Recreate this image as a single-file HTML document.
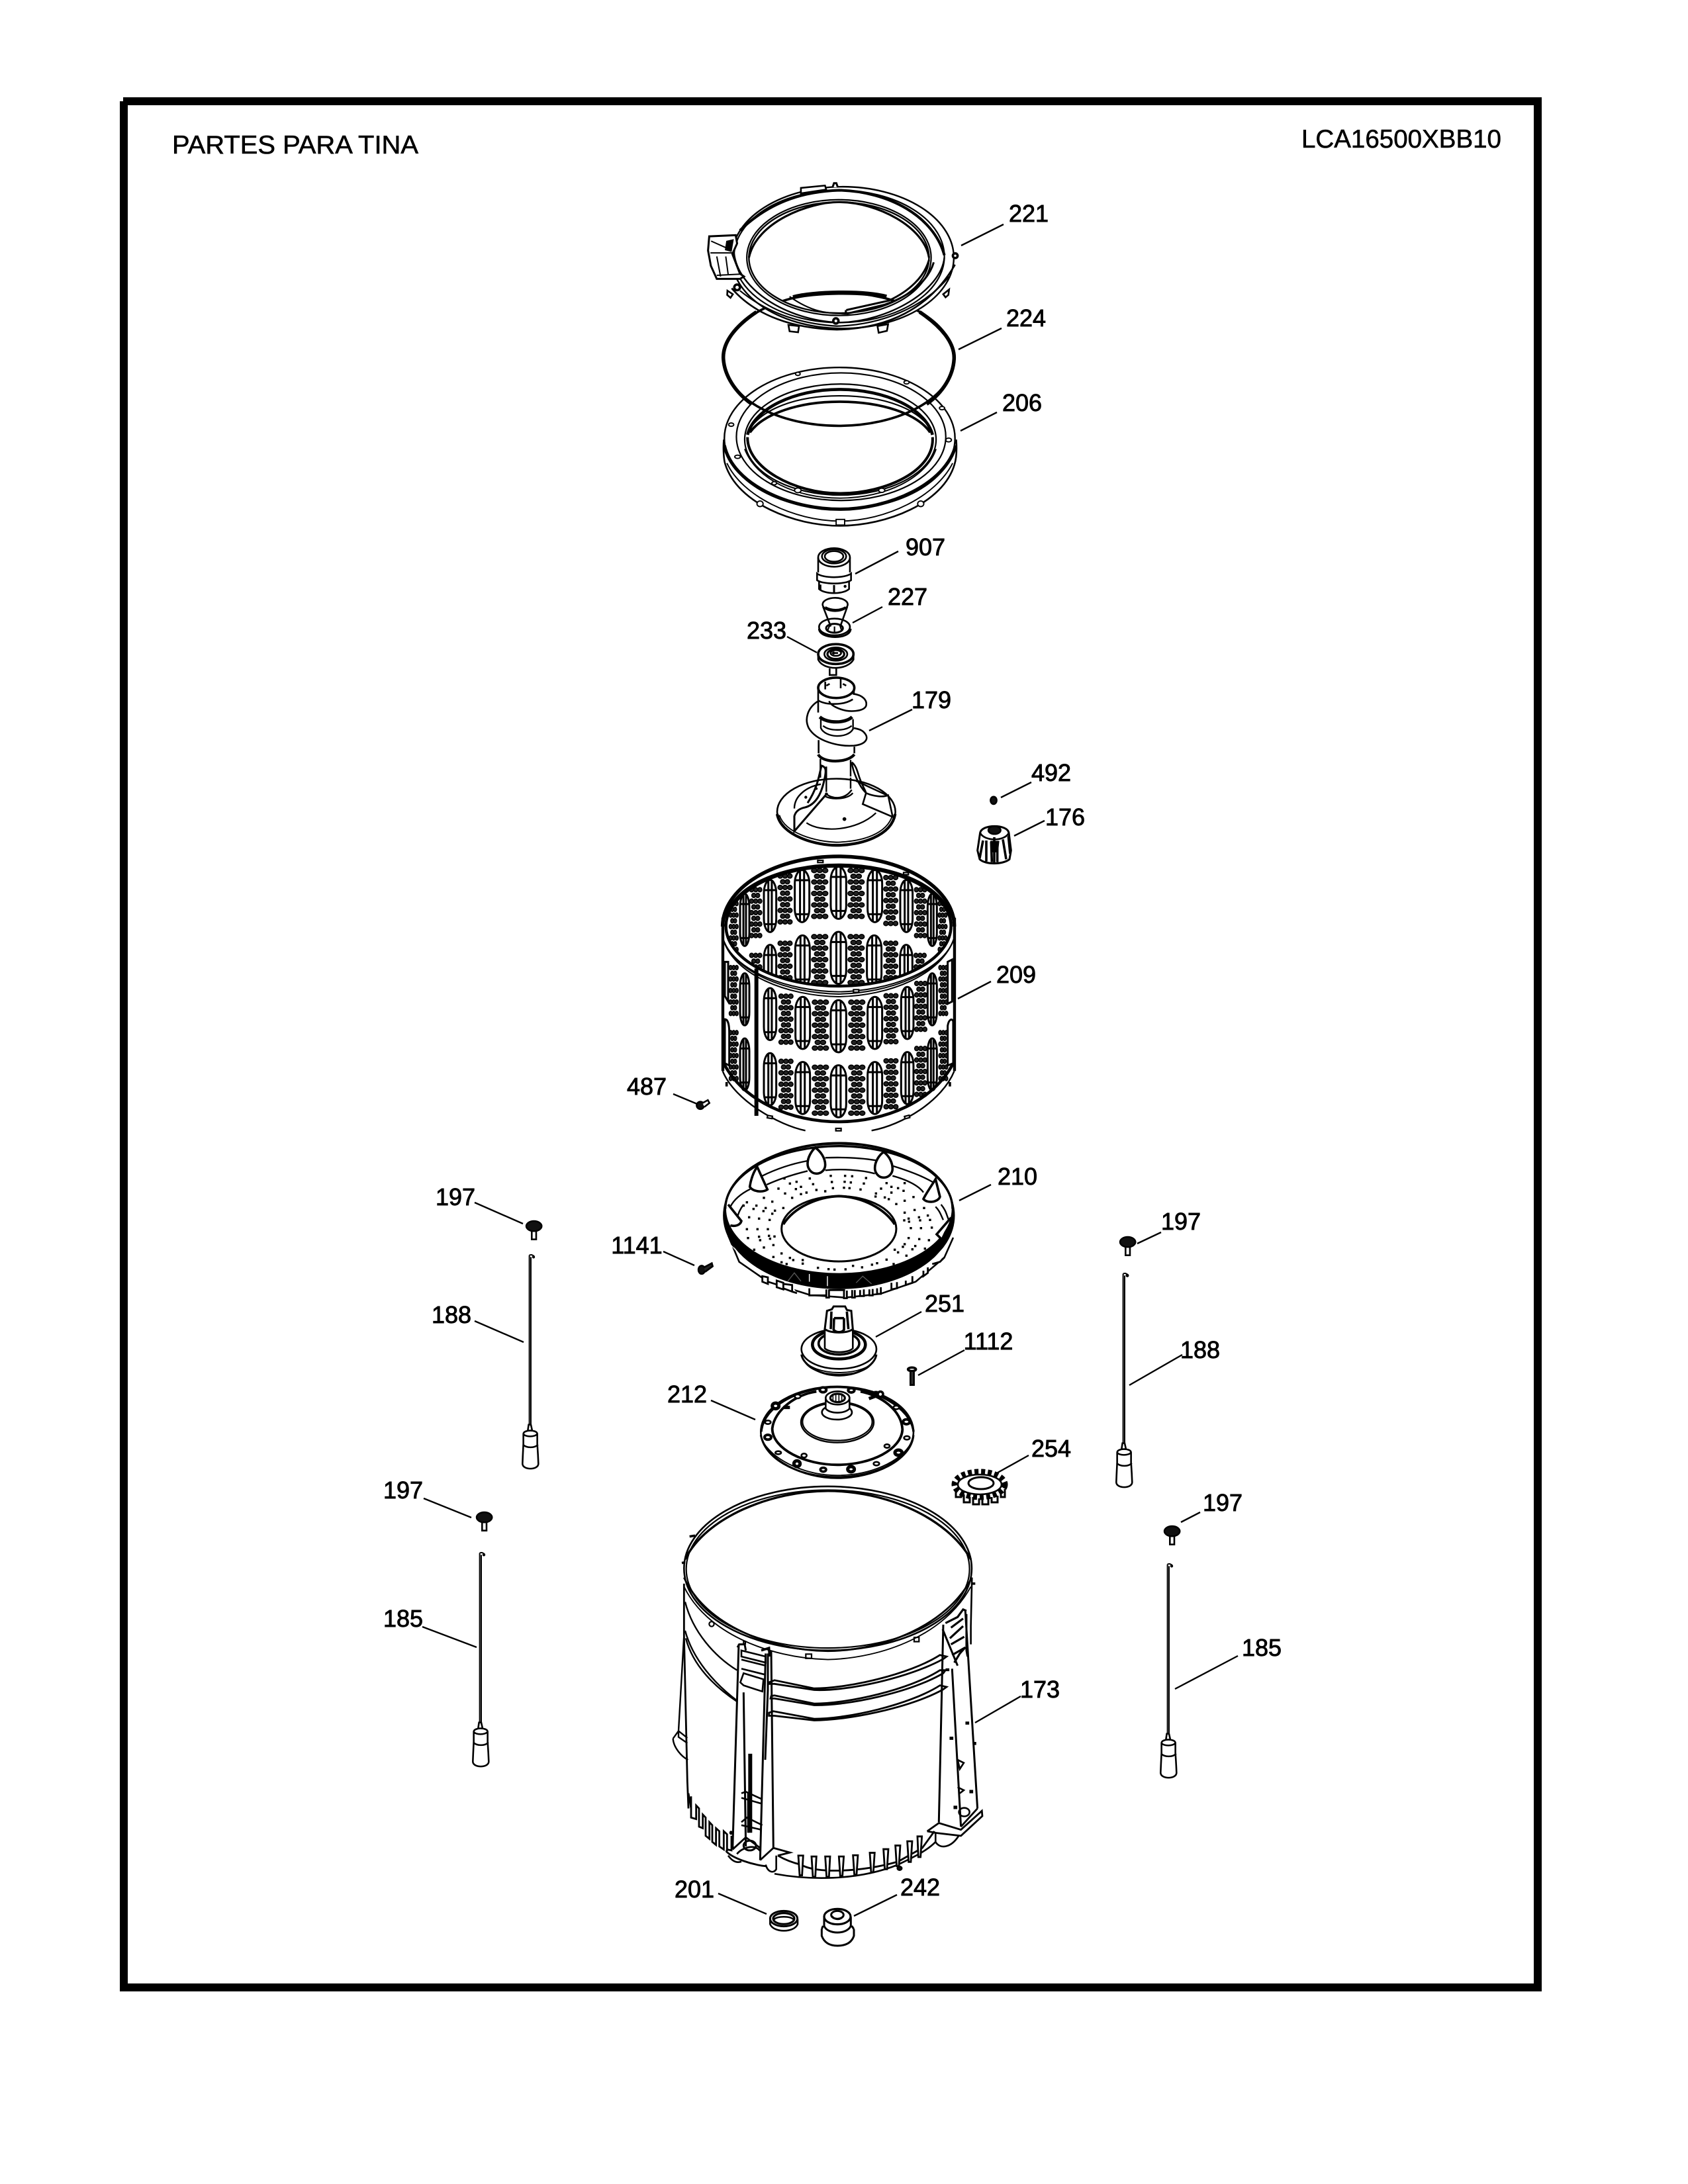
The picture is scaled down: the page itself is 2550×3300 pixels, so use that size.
<!DOCTYPE html>
<html><head><meta charset="utf-8"><style>
html,body{margin:0;padding:0;background:#fff}
svg{display:block}
svg *{vector-effect:non-scaling-stroke}
.l{font:36px "Liberation Sans",sans-serif;text-anchor:middle;fill:#000;stroke:#000;stroke-width:.9}
.t{font:39px "Liberation Sans",sans-serif;fill:#000;stroke:#000;stroke-width:.6}
.w{fill:#fff}.k{fill:#000}
</style></head><body>
<svg xmlns="http://www.w3.org/2000/svg" width="2550" height="3300" viewBox="0 0 2550 3300">
<defs>
<g id="s"><rect x="-50" y="-118" width="100" height="236" rx="50" ry="60" stroke-width="3" fill="#fff"/><path d="M-14 -114V114M14 -114V114M-46 -72H46M-46 82H46" stroke-width="3"/></g>
<g id="d" fill="#222" stroke-width="1.6"><ellipse cx="-25" cy="-104" rx="12" ry="10"/><ellipse cx="0" cy="-104" rx="12" ry="10"/><ellipse cx="25" cy="-104" rx="12" ry="10"/><ellipse cx="-12" cy="-78" rx="12" ry="10"/><ellipse cx="12" cy="-78" rx="12" ry="10"/><ellipse cx="-25" cy="-52" rx="12" ry="10"/><ellipse cx="0" cy="-52" rx="12" ry="10"/><ellipse cx="25" cy="-52" rx="12" ry="10"/><ellipse cx="-12" cy="-26" rx="12" ry="10"/><ellipse cx="12" cy="-26" rx="12" ry="10"/><ellipse cx="-25" cy="0" rx="12" ry="10"/><ellipse cx="0" cy="0" rx="12" ry="10"/><ellipse cx="25" cy="0" rx="12" ry="10"/><ellipse cx="-12" cy="26" rx="12" ry="10"/><ellipse cx="12" cy="26" rx="12" ry="10"/><ellipse cx="-25" cy="52" rx="12" ry="10"/><ellipse cx="0" cy="52" rx="12" ry="10"/><ellipse cx="25" cy="52" rx="12" ry="10"/><ellipse cx="-12" cy="78" rx="12" ry="10"/><ellipse cx="12" cy="78" rx="12" ry="10"/><ellipse cx="-25" cy="104" rx="12" ry="10"/><ellipse cx="0" cy="104" rx="12" ry="10"/><ellipse cx="25" cy="104" rx="12" ry="10"/></g>
<g id="knob"><ellipse cx="740" cy="278" rx="35" ry="23" fill="#111" stroke="#000"/><path d="M730 300V338H750V300" stroke-width="2.6"/></g>
<g id="rod"><path d="M719 410V1180M726 418V1180M719 410Q730 404 742 416" stroke-width="2"/><circle cx="738" cy="418" r="3" fill="#000"/></g>
<g id="wt"><path d="M716 1178L712 1205H732L726 1178Z" stroke-width="2.6" fill="#fff"/><path d="M692 1220C692 1200 755 1200 755 1220V1265C755 1270 758 1300 760 1355C760 1385 688 1385 688 1355C690 1300 692 1270 692 1265ZM692 1220C700 1235 745 1235 755 1220M690 1268C705 1285 745 1285 758 1268" stroke-width="2.6" fill="#fff"/></g>
<clipPath id="back"><ellipse cx="650" cy="418" rx="510" ry="272"/></clipPath>
</defs>
<rect width="2550" height="3300" fill="#fff"/>
<path class="k" d="M186 147H2329V159H186ZM181 153H193V3009H181ZM2317 147H2329V3009H2317ZM181 2997H2329V3009H181Z"/>
<text class="t" x="260" y="232" textLength="372" lengthAdjust="spacingAndGlyphs">PARTES PARA TINA</text>
<text class="t" x="1966" y="223" textLength="302" lengthAdjust="spacingAndGlyphs">LCA16500XBB10</text>

<g fill="none" stroke="#000" stroke-width="2.4">
<!-- top rings -->
<g transform="translate(1000 250) scale(.357)">
<!-- 206 -->
<ellipse cx="752" cy="1155" rx="488" ry="300" stroke-width="2.4" fill="#fff"/>
<path d="M262 1160C258 1200 262 1250 268 1265C320 1430 560 1525 752 1525C950 1525 1190 1430 1238 1265C1246 1240 1248 1200 1245 1160" stroke-width="2.6"/>
<path d="M264 1185C300 1350 540 1455 752 1455C960 1455 1200 1350 1243 1185" stroke-width="5"/>
<path d="M275 1260C340 1400 560 1505 752 1505C950 1505 1160 1400 1230 1260" stroke-width="1.9"/>
<ellipse cx="758" cy="1148" rx="443" ry="270" stroke-width="2.2"/>
<ellipse cx="755" cy="1160" rx="405" ry="235" stroke-width="2.2"/>
<path d="M362 1140C390 1030 560 948 750 948C950 948 1115 1030 1145 1140" stroke-width="4.6"/>
<path d="M365 1125C420 1030 570 975 750 975C940 975 1090 1030 1142 1125" stroke-width="2.2"/>
<path d="M372 1130C430 1050 580 1000 750 1000C930 1000 1080 1050 1135 1130" stroke-width="3.8"/>
<path d="M362 1150C360 1280 560 1388 752 1388C950 1388 1155 1290 1145 1150" stroke-width="4"/>
<path d="M350 1200C400 1330 570 1408 752 1408C950 1408 1120 1320 1160 1200" stroke-width="1.9"/>
<g stroke-width="1.9" fill="#fff"><ellipse cx="575" cy="882" rx="10" ry="7"/><ellipse cx="1035" cy="918" rx="11" ry="7"/><ellipse cx="293" cy="1097" rx="11" ry="7"/><ellipse cx="1213" cy="1162" rx="12" ry="8"/><ellipse cx="475" cy="1345" rx="10" ry="7"/><ellipse cx="575" cy="1375" rx="14" ry="10"/><ellipse cx="930" cy="1375" rx="13" ry="9"/><ellipse cx="320" cy="1233" rx="12" ry="7"/><ellipse cx="1185" cy="1027" rx="11" ry="7"/><ellipse cx="415" cy="1432" rx="13" ry="12"/><ellipse cx="1095" cy="1432" rx="13" ry="12"/><rect x="737" y="1498" width="36" height="24"/></g>
<!-- 224 gasket -->
<ellipse cx="748" cy="820" rx="487" ry="282" stroke-width="3.6"/>
<path d="M400 620C310 680 255 750 260 820C265 890 310 960 380 1010M1090 620C1180 680 1240 750 1236 820C1232 890 1190 960 1120 1010" stroke-width="5.5"/>
<!-- 221 -->
<path fill="#fff" fill-rule="evenodd" stroke-width="2.4" d="M295 390A470 300 0 1 1 1235 390A470 300 0 1 1 295 390ZM368 390A381 235 0 1 0 1130 390A381 235 0 1 0 368 390Z"/>
<path d="M555 558C640 535 850 530 950 556" stroke-width="6.5"/>
<ellipse cx="749" cy="390" rx="390" ry="245" stroke-width="2.2"/>
<ellipse cx="750" cy="385" rx="445" ry="280" stroke-width="2.2"/>
<path d="M330 275C470 140 620 110 750 105C960 110 1150 215 1195 380" stroke-width="4"/>
<path d="M305 370C320 520 520 655 750 665C960 660 1180 530 1195 390" stroke-width="2.4"/>
<path d="M368 390C400 240 620 155 750 155C910 155 1110 260 1130 390" stroke-width="3.2"/>
<path d="M540 555C640 625 700 625 780 628" stroke-width="2.2"/>
<path d="M780 612L960 572C1050 530 1110 470 1130 400M780 628L940 590C1060 550 1130 480 1150 410M778 612L778 628" stroke-width="3"/>
<path d="M295 520C400 640 560 690 740 695C950 690 1130 610 1240 420" stroke-width="2.6"/>
<path d="M330 530C440 620 580 670 740 680C930 675 1110 600 1215 470" stroke-width="2.2"/>
<path fill="#fff" stroke-width="3" d="M200 300L312 295L318 330L298 375L330 458L347 470L330 480L232 480L207 425L195 360Z"/>
<path d="M208 320L275 350M205 370L298 370M232 385L248 470M270 385L280 460M232 465L330 460" stroke-width="2"/>
<path class="k" d="M275 322L300 316L292 362L270 356Z"/>
<path d="M588 95L690 85L695 102L588 118Z" fill="#fff" stroke-width="2.6"/>
<path d="M722 92L728 75H738L744 92" fill="#fff" stroke-width="3"/>
<g fill="#fff" stroke-width="2.6"><path d="M535 675L580 680L576 706L540 702Z"/><path d="M912 680L957 672L952 700L917 708Z"/><path d="M277 530L300 545L290 560L276 548Z"/><path d="M1190 545L1215 525L1212 548L1200 558Z"/><circle cx="736" cy="658" r="11" stroke-width="3.6"/><circle cx="1241" cy="382" r="10" stroke-width="3.6"/><circle cx="318" cy="516" r="12" stroke-width="3.6"/></g>
</g>

<!-- centre stack -->
<g transform="translate(1100 800) scale(.3333)">
<!-- 907 -->
<ellipse cx="480" cy="127" rx="72" ry="42" stroke-width="2.6"/><ellipse cx="480" cy="122" rx="55" ry="32" stroke-width="2.6"/><ellipse cx="480" cy="122" rx="42" ry="24" stroke-width="2.6"/>
<path d="M408 127V195M552 127V195M403 200V230C430 250 530 250 557 230V200C530 222 430 222 403 200ZM412 235V270C440 295 520 295 548 270V235" stroke-width="2.6"/>
<path d="M480 252V285M418 250V275" stroke-width="3"/><circle cx="530" cy="258" r="3" fill="#000"/>
<!-- 227 -->
<ellipse cx="485" cy="340" rx="57" ry="30" stroke-width="2.6"/><path d="M440 352C470 368 505 368 532 352" stroke-width="2.6"/>
<path d="M430 350L465 440M540 350L508 440" stroke-width="2.6"/>
<ellipse cx="482" cy="442" rx="70" ry="38" stroke-width="2.6"/><ellipse cx="482" cy="448" rx="38" ry="20" stroke-width="3"/>
<path d="M412 450C415 500 555 500 555 450" stroke-width="3"/><path d="M462 430L450 460M505 430L515 460M482 440V465" stroke-width="2.2"/>
<!-- 233 -->
<ellipse cx="488" cy="565" rx="80" ry="45" stroke-width="3.6"/><ellipse cx="488" cy="565" rx="52" ry="30" stroke-width="2.6"/><ellipse cx="488" cy="565" rx="38" ry="22" stroke-width="3.2"/><ellipse cx="488" cy="560" rx="24" ry="13" stroke-width="2.6"/>
<path d="M408 570V590C430 640 540 640 568 590V570M478 553V567M470 560H498M460 630V660H490V630" stroke-width="2.6"/>
<!-- 179 -->
<ellipse cx="490" cy="718" rx="82" ry="46" stroke-width="3.6"/><path d="M440 690V725M510 675V720M445 708L460 700M520 700L535 708" stroke-width="2.6"/>
<path d="M408 720V830M570 720V745" stroke-width="2.6"/>
<path d="M565 745C610 750 632 775 625 800C615 825 550 830 510 815C480 805 460 790 458 778M408 775C440 795 520 800 565 770" stroke-width="2.6"/>
<path d="M415 850C450 880 530 880 562 850" stroke-width="5"/>
<path d="M420 860V900C440 945 540 950 566 905V860M430 890C460 915 530 915 560 890" stroke-width="2.4"/>
<path d="M405 780C360 810 345 860 365 900C400 960 500 985 570 980C620 975 640 950 620 925C605 905 585 905 570 900" stroke-width="2.6"/>
<path d="M410 955V1015M572 985V1015" stroke-width="2.6"/><path d="M408 1020C430 1060 540 1060 572 1020" stroke-width="4.2"/>
<path d="M418 1040V1125M555 1045V1120M445 1075V1190M555 1125V1175M440 1195C470 1225 530 1225 560 1180M440 1210C470 1225 540 1225 565 1195" stroke-width="2.4"/>
<ellipse cx="490" cy="1280" rx="268" ry="150" stroke-width="2.6"/>
<path d="M232 1295C260 1380 400 1415 490 1418C610 1415 720 1380 745 1295" stroke-width="1.9"/>
<path d="M222 1290C240 1390 400 1432 490 1432C600 1432 740 1390 757 1290" stroke-width="4.2"/>
<path d="M300 1265C300 1205 360 1165 420 1155" stroke-width="2.4"/>
<path d="M420 1070C440 1075 445 1085 440 1115C430 1170 410 1250 340 1262C320 1268 305 1280 300 1300V1368L450 1195M422 1075C410 1130 400 1180 360 1240" stroke-width="3"/>
<path d="M560 1055C565 1095 590 1160 625 1195C660 1210 700 1215 725 1205L745 1300M560 1055C580 1070 585 1095 595 1125C610 1170 620 1175 625 1195L610 1245L750 1305M580 1140L720 1205" stroke-width="2.6"/>
<path d="M355 1330C420 1375 580 1370 670 1285" stroke-width="2.2"/>
<circle cx="527" cy="1313" r="5" fill="#000"/><circle cx="352" cy="1214" r="3" fill="#000"/><circle cx="400" cy="1175" r="2" fill="#000"/>
</g>

<!-- 492 / 176 -->
<g transform="translate(1440 1130) scale(.3333)">
<ellipse cx="183" cy="238" rx="14" ry="17" fill="#111"/>
<path fill="#fff" stroke-width="3" d="M122 385C130 345 245 345 252 385L262 465L255 505C225 530 145 530 120 505L110 465Z"/>
<path d="M122 385C140 425 235 425 252 385" stroke-width="2.6"/>
<ellipse cx="187" cy="373" rx="28" ry="18" fill="#111"/>
<path d="M135 420L120 500M150 420L150 515M186 405V520M172 425L175 518M200 425L200 518M225 415L240 505M250 400L258 480" stroke-width="3.6"/>
<path class="k" d="M172 425L205 425L200 470L178 470Z"/>
</g>

<!-- 209 drum -->
<g transform="translate(1050 1260) scale(.3333)">
<g clip-path="url(#back)">
<use href="#s" transform="translate(650 267) scale(.7 1)"/><use href="#s" transform="translate(485 282) scale(.66 1)"/><use href="#s" transform="translate(815 282) scale(.66 1)"/><use href="#s" transform="translate(340 327) scale(.56 1)"/><use href="#s" transform="translate(958 327) scale(.56 1)"/><use href="#s" transform="translate(225 390) scale(.42 1)"/><use href="#s" transform="translate(1075 390) scale(.42 1)"/>
<use href="#d" transform="translate(565 270)"/><use href="#d" transform="translate(730 270)"/><use href="#d" transform="translate(408 295) scale(.87 1)"/><use href="#d" transform="translate(887 302) scale(.87 1)"/><use href="#d" transform="translate(275 357) scale(.75 1)"/><use href="#d" transform="translate(1022 357) scale(.75 1)"/><use href="#d" transform="translate(175 420) scale(.55 1)"/><use href="#d" transform="translate(1122 420) scale(.55 1)"/>
<use href="#s" transform="translate(650 562) scale(.7 1)"/><use href="#s" transform="translate(487 578) scale(.66 1)"/><use href="#s" transform="translate(812 578) scale(.66 1)"/><use href="#s" transform="translate(340 621) scale(.56 1)"/><use href="#s" transform="translate(957 621) scale(.56 1)"/>
<use href="#d" transform="translate(565 570)"/><use href="#d" transform="translate(730 570)"/><use href="#d" transform="translate(408 600) scale(.87 1)"/><use href="#d" transform="translate(887 600) scale(.87 1)"/><use href="#d" transform="translate(275 655) scale(.75 1)"/><use href="#d" transform="translate(1020 655) scale(.75 1)"/>
</g>
<!-- front rows -->
<use href="#s" transform="translate(340 817) scale(.56 1)"/><use href="#s" transform="translate(488 857) scale(.66 1)"/><use href="#s" transform="translate(650 872) scale(.7 1)"/><use href="#s" transform="translate(815 857) scale(.66 1)"/><use href="#s" transform="translate(962 812) scale(.56 1)"/><use href="#s" transform="translate(1075 750) scale(.42 1)"/><use href="#s" transform="translate(225 750) scale(.42 1)"/>
<use href="#d" transform="translate(412 840) scale(.87 1)"/><use href="#d" transform="translate(568 867)"/><use href="#d" transform="translate(733 867)"/><use href="#d" transform="translate(888 838) scale(.87 1)"/><use href="#d" transform="translate(1023 782) scale(.75 1)"/><use href="#d" transform="translate(1125 710) scale(.55 1)"/><use href="#d" transform="translate(175 710) scale(.55 1)"/>
<use href="#s" transform="translate(340 1112) scale(.56 1)"/><use href="#s" transform="translate(488 1152) scale(.66 1)"/><use href="#s" transform="translate(650 1167) scale(.7 1)"/><use href="#s" transform="translate(815 1152) scale(.66 1)"/><use href="#s" transform="translate(962 1107) scale(.56 1)"/><use href="#s" transform="translate(1075 1045) scale(.42 1)"/><use href="#s" transform="translate(225 1045) scale(.42 1)"/>
<use href="#d" transform="translate(412 1135) scale(.87 1)"/><use href="#d" transform="translate(568 1162)"/><use href="#d" transform="translate(733 1162)"/><use href="#d" transform="translate(888 1133) scale(.87 1)"/><use href="#d" transform="translate(1023 1077) scale(.75 1)"/><use href="#d" transform="translate(1125 1005) scale(.55 1)"/><use href="#d" transform="translate(175 1005) scale(.55 1)"/>
<!-- rims -->
<ellipse cx="650" cy="418" rx="510" ry="272" stroke-width="4.4"/>
<path d="M125 420A525 318 0 0 1 1175 420" stroke-width="5.5"/>
<path d="M140 400A510 262 0 0 1 1160 400" stroke-width="2.6"/>
<path d="M125 470C170 640 420 735 650 738C880 735 1120 640 1175 470" stroke-width="2"/>
<path d="M128 478C180 630 420 722 650 726C880 722 1120 630 1172 478" stroke-width="2"/>
<path d="M132 490C190 625 420 712 650 716C880 712 1110 625 1168 490" stroke-width="2"/>
<path d="M126 380V1075M1176 380V1075" stroke-width="4.4"/>
<path d="M135 580V735L150 760V580ZM1145 580L1165 570V760L1145 770ZM135 840C150 840 155 870 155 900V1050L135 1040ZM1145 870C1150 840 1165 835 1170 850V1040L1145 1050Z" stroke-width="3"/>
<path d="M130 1040C220 1215 440 1305 650 1305C860 1305 1080 1215 1170 1040" stroke-width="4.6"/>
<path d="M125 1075C180 1210 380 1320 500 1345M800 1345C940 1320 1120 1210 1175 1075" stroke-width="2.4"/>
<path d="M278 610V1278" stroke-width="6"/>
<g stroke-width="2.2" fill="#fff"><rect x="556" y="120" width="24" height="10"/><rect x="945" y="175" width="22" height="10"/><rect x="718" y="706" width="24" height="12"/><rect x="328" y="1278" width="22" height="11" transform="rotate(10 339 1283)"/><rect x="950" y="1278" width="22" height="11" transform="rotate(-15 961 1283)"/><rect x="638" y="1335" width="24" height="11"/></g>
<path d="M143 1125V1145M1155 1125V1145" stroke-width="3.6"/>
<!-- 487 -->
<circle cx="24" cy="1231" r="17" fill="#111"/><path d="M34 1220L58 1207L65 1220L42 1238" fill="#fff" stroke-width="2.6"/>
</g>

<!-- 210 basket -->
<g transform="translate(1050 1680) scale(.3333)">
<path stroke-width="2.6" d="M150 560L200 680L330 770L520 830L680 842L840 825L1000 770L1130 660L1170 570"/>
<path stroke-width="2.8" fill="#fff" d="M305 745V770L330 780V750ZM370 765V795L400 805V775ZM400 780V800L440 815V785ZM440 790V815L462 822M518 800V832H595V805M595 805V842H607V805M607 808H680M675 810V845H688V810M712 808V842H724V808M748 808V835H765V805M790 805V832H805V803M825 800V825H842V795M890 775V805L915 800V772M955 765V785L985 775V745M1035 720V745L1055 730V705M1075 690L1110 680L1130 660"/>
<ellipse cx="652" cy="470" rx="522" ry="330" class="k"/>
<ellipse cx="652" cy="440" rx="515" ry="295" fill="#fff" stroke-width="2.6"/>
<path d="M137 440A515 285 0 0 1 1167 440" stroke-width="3.4"/>
<path d="M518 735V770M600 745V790" stroke="#fff" stroke-width="1.4"/>
<path d="M420 768L450 730L480 768M730 775L760 745L800 780" stroke="#555" stroke-width="1.4"/>
<path d="M150 590L250 700M1150 590L1060 690" stroke="#fff" stroke-width="1"/>
<path d="M305 290C370 258 440 235 510 222M590 208C680 205 750 208 820 220M895 245C960 265 1030 290 1080 320" stroke-width="2.4"/>
<path d="M160 430C180 390 220 365 250 350M325 330C380 305 440 285 510 268M590 265C660 258 750 262 815 280M895 290C950 305 1010 330 1035 365M1115 420C1140 450 1140 470 1150 490M220 420C205 440 195 460 192 480M1090 430C1110 450 1115 470 1125 490" stroke-width="2.4"/>
<g fill="#fff" stroke-width="3.6"><path d="M545 162C570 180 590 210 590 240C590 265 570 280 550 280C525 280 510 255 510 235C510 205 530 175 545 162Z"/><path d="M855 182C880 200 895 230 895 258C895 282 875 298 855 298C830 298 815 275 815 255C815 225 835 195 855 182Z"/><path d="M282 250L328 352C310 365 265 365 248 340C252 310 265 270 282 250Z"/><path d="M1090 305L1110 385C1100 412 1050 415 1035 395C1050 365 1075 330 1090 305Z"/><path d="M150 420L210 495C205 515 180 520 160 515"/><path d="M1160 480L1095 555L1115 575"/></g>
<ellipse cx="652" cy="530" rx="260" ry="148" fill="#fff" stroke-width="3"/>
<path d="M400 510C450 430 560 385 652 382C760 385 860 440 905 510" stroke-width="3.8"/>
<path stroke-linecap="square" stroke-width="3.4" d="M615 290h.1M680 290h.1M712 292h.1M775 300h.1M520 302h.1M405 302h.1M430 325h.1M460 317h.1M535 328h.1M620 318h.1M678 317h.1M706 320h.1M765 325h.1M868 323h.1M950 323h.1M378 348h.1M457 350h.1M480 340h.1M550 354h.1M625 346h.1M675 344h.1M700 346h.1M750 352h.1M843 348h.1M890 340h.1M920 346h.1M945 358h.1M408 370h.1M480 373h.1M505 366h.1M590 360h.1M820 370h.1M818 384h.1M860 388h.1M878 396h.1M890 366h.1M990 386h.1M440 390h.1M312 390h.1M350 407h.1M950 403h.1M235 410h.1M220 425h.1M278 425h.1M320 436h.1M400 436h.1M265 440h.1M912 418h.1M995 445h.1M1038 436h.1M310 450h.1M362 448h.1M350 462h.1M950 457h.1M1055 470h.1M245 478h.1M290 484h.1M338 490h.1M968 484h.1M1015 478h.1M948 492h.1M970 498h.1M1020 492h.1M1065 490h.1M235 532h.1M283 532h.1M330 532h.1M978 527h.1M1024 527h.1M1073 525h.1M240 572h.1M290 566h.1M335 562h.1M360 565h.1M340 575h.1M968 572h.1M1016 577h.1M1060 582h.1M295 582h.1M355 604h.1M312 615h.1M950 600h.1M942 612h.1M998 608h.1M985 623h.1M905 625h.1M920 637h.1M1042 620h.1M268 625h.1M392 642h.1M355 658h.1M958 652h.1M430 662h.1M445 672h.1M488 672h.1M488 688h.1M392 682h.1M415 690h.1M868 670h.1M825 686h.1M802 693h.1M557 707h.1M605 713h.1M632 715h.1M682 714h.1M716 698h.1M757 705h.1M900 690h.1"/>
<!-- 1141 -->
<ellipse cx="30" cy="716" rx="15" ry="19" fill="#111"/><path d="M40 705L76 686L80 700L45 726" fill="#222" stroke-width="2.6"/>
</g>

<!-- 251 / 212 / 1112 -->
<g transform="translate(1120 1950) scale(.3333)">
<ellipse cx="442" cy="265" rx="170" ry="90" stroke-width="2.6"/>
<path d="M272 290C280 340 360 385 442 385C530 385 605 340 612 290" stroke-width="3"/>
<path d="M280 310C300 350 370 372 442 372C520 372 590 350 605 310M292 330C320 365 380 380 442 380C510 380 570 365 590 330" stroke-width="1.9"/>
<ellipse cx="442" cy="245" rx="120" ry="65" stroke-width="4.6"/>
<ellipse cx="442" cy="240" rx="92" ry="50" stroke-width="3.6"/>
<path fill="#fff" stroke-width="2.6" d="M378 175V262C400 285 485 285 505 262V175Z"/>
<path fill="#fff" stroke-width="3" d="M378 175L388 92L410 85L418 72L470 72L478 88L498 92L505 175C480 195 405 195 378 175Z"/>
<path d="M408 95L405 175M478 95L485 175M420 125H465M420 125L418 178C430 192 455 192 465 178L465 125" stroke-width="3.6"/>
<ellipse cx="434" cy="640" rx="346" ry="205" fill="#fff" stroke-width="2.6"/>
<path d="M88 655C110 770 280 850 434 850C600 850 770 770 780 655" stroke-width="3"/>
<path d="M100 690C160 780 300 838 434 838C580 838 720 780 770 690" stroke-width="1.9"/>
<path d="M90 640C100 520 270 437 434 437C600 437 770 530 780 640" stroke-width="3.4"/>
<path d="M340 458C250 470 150 540 140 625C140 720 290 790 435 790C590 790 725 720 730 630C725 540 630 475 540 458" stroke-width="3.8"/>
<ellipse cx="435" cy="597" rx="165" ry="92" stroke-width="2.4"/>
<ellipse cx="435" cy="595" rx="158" ry="85" stroke-width="2.2"/>
<ellipse cx="433" cy="552" rx="68" ry="33" fill="#fff" stroke-width="2.6"/>
<path fill="#fff" stroke-width="2.6" d="M382 487V535C400 560 470 560 490 535V487Z"/>
<ellipse cx="436" cy="487" rx="54" ry="30" fill="#fff" stroke-width="2.6"/>
<ellipse cx="436" cy="487" rx="33" ry="19" stroke-width="3.2"/>
<path d="M415 475V500M428 470V505M442 470V505M455 475V500" stroke-width="1.6"/>
<g stroke-width="2.6" fill="#fff"><ellipse cx="370" cy="450" rx="15" ry="11" stroke-width="4"/><ellipse cx="498" cy="452" rx="14" ry="10" stroke-width="4"/><ellipse cx="255" cy="480" rx="13" ry="9"/><ellipse cx="155" cy="523" rx="15" ry="13" stroke-width="5"/><ellipse cx="120" cy="597" rx="13" ry="8"/><ellipse cx="120" cy="665" rx="15" ry="11" stroke-width="4"/><ellipse cx="167" cy="735" rx="13" ry="7"/><ellipse cx="284" cy="748" rx="12" ry="9"/><ellipse cx="252" cy="785" rx="14" ry="13" stroke-width="5"/><ellipse cx="371" cy="812" rx="13" ry="9" stroke-width="3.6"/><ellipse cx="497" cy="810" rx="15" ry="12" stroke-width="5"/><ellipse cx="612" cy="785" rx="13" ry="8"/><ellipse cx="712" cy="735" rx="16" ry="12" stroke-width="5"/><ellipse cx="750" cy="668" rx="13" ry="8"/><ellipse cx="748" cy="595" rx="15" ry="11" stroke-width="4"/><ellipse cx="702" cy="530" rx="13" ry="8"/><ellipse cx="660" cy="705" rx="12" ry="8"/><ellipse cx="630" cy="470" rx="12" ry="12" stroke-width="3.6"/></g>
<path d="M578 490L610 478L610 455M190 530L220 530" stroke-width="5"/>
<ellipse cx="773" cy="357" rx="18" ry="8" fill="#fff" stroke-width="3.6"/><path d="M766 365V428H782V365Z" fill="#333" stroke-width="2.6"/>
</g>

<!-- tub 173 -->
<g transform="translate(980 2200) scale(.3333 .4591)">
<ellipse cx="812" cy="370" rx="652" ry="270" stroke-width="2.6"/>
<ellipse cx="812" cy="372" rx="642" ry="260" stroke-width="2.2"/>
<path d="M165 340C260 200 560 115 812 115C1070 115 1350 200 1460 340" stroke-width="3.4"/>
<path d="M160 400C260 560 560 640 812 642C1060 640 1350 560 1465 400" stroke-width="2.8"/>
<path d="M160 430C260 580 540 665 812 670C1060 665 1340 590 1460 430" stroke-width="1.9"/>
<path d="M150 352L165 350M1465 420H1480M185 265L210 262" stroke-width="3.6"/>
<path d="M160 420V590L175 1070L180 1160" stroke-width="2.8"/>
<path d="M1465 400L1460 560V620" stroke-width="2.6"/>
<path d="M165 480C200 580 300 660 400 705M165 575C200 670 300 750 400 805M168 600C200 690 300 760 400 808" stroke-width="2.4"/>
<path d="M160 590L135 905M110 930L135 905L175 928M110 930C112 960 150 990 178 1000M135 905V925L175 945" stroke-width="2.4"/>
<!-- left leg -->
<path d="M408 620L380 1295M430 778L440 1285M530 650L505 1330M555 640L565 1290M540 650V770L528 1000M402 630L410 620H435L440 640" stroke-width="3"/>
<path d="M420 640L530 660V680L420 660ZM420 670L530 690M420 700L530 720M415 745L430 715L520 735L515 775L430 755Z" stroke-width="2.6"/>
<path d="M510 640L545 632L548 660" stroke-width="3.6"/>
<path d="M460 980V1240" stroke-width="6"/><path d="M420 1110L440 1105L515 1130M420 1125L515 1145M420 1205L445 1190L515 1215M420 1215L510 1230M450 1110V1240" stroke-width="2.6"/>
<path d="M350 1300L385 1285M380 1295L440 1255L505 1290M400 1310C420 1290 480 1275 505 1300M505 1330L565 1290L640 1305L585 1315M350 1300C380 1325 470 1345 530 1350" stroke-width="2.8"/>
<ellipse cx="458" cy="1282" rx="28" ry="16" stroke-width="3"/>
<path d="M360 1315C380 1335 400 1340 420 1335M530 1345C540 1370 565 1375 578 1360V1315" stroke-width="2.6"/>
<!-- bottom edge -->
<path d="M570 1375C720 1395 940 1400 1130 1345C1200 1320 1260 1300 1300 1270" stroke-width="2.6"/>
<path d="M585 1315C620 1330 660 1340 690 1345C760 1375 960 1370 1130 1335L1240 1290L1295 1235" stroke-width="2.8"/>
<path fill="#fff" stroke-width="2.8" d="M678 1315H700L695 1380H684ZM738 1318H760L755 1385H744ZM800 1318H822L817 1385H806ZM862 1318H884L878 1382H868ZM926 1314H948L942 1378H932ZM1002 1306H1024L1018 1370H1008ZM1064 1294H1086L1080 1360H1070ZM1118 1282H1140L1134 1350H1124ZM1172 1268H1194L1188 1336H1178ZM1218 1252H1238L1232 1320H1222Z"/>
<ellipse cx="1137" cy="1357" rx="10" ry="6" fill="#111"/>
<!-- ribs -->
<path d="M545 745L570 738L750 765C900 765 1180 720 1320 655L1350 660L1335 668C1180 730 900 775 750 770L570 750L545 750ZM555 790L570 788L750 815C900 815 1180 770 1320 705L1345 705L1335 715C1180 780 900 822 750 820L570 798L552 798ZM545 845L565 840L750 865C900 865 1180 820 1320 755L1350 760L1335 768C1180 830 900 870 750 870L570 855L545 855Z" stroke-width="2.8"/>
<!-- right leg -->
<path d="M1335 555L1315 1205M1435 510L1490 1160M1375 700L1415 1220M1332 570L1400 690M1440 520V640L1445 660" stroke-width="3"/>
<path d="M1345 550L1400 530L1425 505L1440 510M1370 565L1425 535M1365 600L1425 560M1370 620L1430 595M1375 655L1435 630L1410 650L1385 680" stroke-width="3.2"/>
<path d="M1262 1235L1315 1208L1415 1230L1510 1168L1512 1185L1415 1250L1295 1240M1262 1235L1300 1240M1415 1220L1490 1160" stroke-width="2.8"/>
<path d="M1300 1240V1270C1320 1295 1370 1290 1405 1250" stroke-width="2.6"/>
<ellipse cx="1430" cy="1172" rx="24" ry="14" stroke-width="2.6"/>
<path d="M1400 1000L1428 1010L1410 1030ZM1400 1090L1428 1100L1410 1110" stroke-width="2.6"/>
<g class="k" stroke-width="1"><rect x="1347" y="700" width="14" height="7"/><rect x="1437" y="875" width="14" height="8"/><rect x="1365" y="925" width="14" height="8"/><rect x="1473" y="942" width="10" height="8"/><rect x="1455" y="1100" width="14" height="9"/><rect x="1383" y="1152" width="14" height="9"/></g>
<!-- left comb -->
<path fill="#fff" stroke-width="2.8" d="M180 1110L192 1160M192 1120V1190L215 1195V1150L228 1160V1220L245 1225V1180L258 1190V1250L275 1260V1205L288 1215V1270L305 1280V1225L320 1235V1285L340 1295V1235L355 1245V1295L375 1298V1250"/>
<circle cx="373" cy="1240" r="4" fill="#000"/>
<!-- small marks -->
<g stroke-width="2.2"><ellipse cx="285" cy="553" rx="11" ry="8"/><rect x="712" y="652" width="26" height="14"/><rect x="1203" y="597" width="22" height="14"/><rect x="430" y="610" width="8" height="8"/></g>
</g>

<!-- 254 gear -->
<g>
<ellipse cx="1480" cy="2243" rx="38" ry="19" stroke-width="9" stroke-dasharray="6 4"/>
<ellipse cx="1480" cy="2243" rx="33" ry="15" stroke-width="2.6" fill="#fff"/>
<ellipse cx="1482" cy="2241" rx="19" ry="9" stroke-width="3"/>
<path d="M1444 2250V2262H1452V2258M1456 2258V2270H1465V2262M1470 2262V2273H1479V2264M1484 2264V2273H1493V2264M1498 2262V2270H1507V2260M1512 2258V2262H1518V2250" stroke-width="3"/>
</g>

<!-- 201 / 242 -->
<g transform="translate(1130 2800) scale(.3333)">
<ellipse cx="162" cy="297" rx="62" ry="35" stroke-width="3"/><ellipse cx="162" cy="297" rx="48" ry="25" stroke-width="3.2"/>
<path d="M118 300C135 285 190 285 205 300M100 300V322C115 362 210 362 225 322V300" stroke-width="2.6"/>
<ellipse cx="405" cy="288" rx="60" ry="35" stroke-width="3.2"/><ellipse cx="405" cy="280" rx="28" ry="18" stroke-width="3"/><path d="M380 285C395 305 420 305 432 285" stroke-width="2.6"/>
<path d="M345 290V330C360 370 450 370 466 330V290M334 345V375C345 405 370 420 405 420C445 420 470 405 480 375V345M340 330L334 345M470 330L480 345" stroke-width="3"/>
</g>

<!-- pendulums -->
<g transform="translate(560 1760) scale(.3333)"><use href="#knob"/><use href="#rod"/><use href="#wt"/></g>
<g transform="translate(1457 1788) scale(.3333)"><use href="#knob" y="-12"/><use href="#rod" stroke-width="3"/><use href="#wt"/></g>
<g transform="translate(485 2210) scale(.3333)"><use href="#knob" y="-30"/><use href="#rod"/><use href="#wt"/></g>
<g transform="translate(1524 2227) scale(.3333)"><use href="#knob" y="-18"/><use href="#rod"/><use href="#wt"/></g>

<!-- leaders -->
<path stroke-width="2.4" d="M1516 339L1452 371M1513 496L1448 528M1506 623L1451 651M1357 833L1292 867M1333 917L1288 941M1189 962L1234 986M1378 1072L1313 1104M1558 1182L1512 1205M1578 1240L1532 1263M1497 1483L1447 1509M1017 1653L1053 1668M1497 1790L1449 1814M717 1817L790 1849M717 1996L791 2028M1002 1891L1049 1912M1754 1862L1718 1879M1786 2047L1706 2093M1392 1982L1323 2020M1457 2040L1387 2078M1074 2116L1141 2145M1554 2199L1502 2228M640 2264L712 2293M638 2458L720 2489M1813 2285L1784 2300M1870 2502L1775 2552M1542 2563L1473 2603M1085 2861L1158 2892M1355 2863L1290 2895"/>
</g>

<text class="l" x="1554" y="335">221</text>
<text class="l" x="1550" y="493">224</text>
<text class="l" x="1544" y="621">206</text>
<text class="l" x="1398" y="839">907</text>
<text class="l" x="1371" y="914">227</text>
<text class="l" x="1158" y="965">233</text>
<text class="l" x="1407" y="1070">179</text>
<text class="l" x="1588" y="1180">492</text>
<text class="l" x="1609" y="1247">176</text>
<text class="l" x="1535" y="1485">209</text>
<text class="l" x="977" y="1654">487</text>
<text class="l" x="1537" y="1790">210</text>
<text class="l" x="688" y="1821">197</text>
<text class="l" x="962" y="1894">1141</text>
<text class="l" x="1784" y="1858">197</text>
<text class="l" x="682" y="1999">188</text>
<text class="l" x="1813" y="2052">188</text>
<text class="l" x="1427" y="1982">251</text>
<text class="l" x="1493" y="2039">1112</text>
<text class="l" x="1038" y="2119">212</text>
<text class="l" x="1588" y="2201">254</text>
<text class="l" x="609" y="2264">197</text>
<text class="l" x="1847" y="2283">197</text>
<text class="l" x="609" y="2458">185</text>
<text class="l" x="1906" y="2502">185</text>
<text class="l" x="1571" y="2565">173</text>
<text class="l" x="1049" y="2867">201</text>
<text class="l" x="1390" y="2864">242</text>
</svg>
</body></html>
